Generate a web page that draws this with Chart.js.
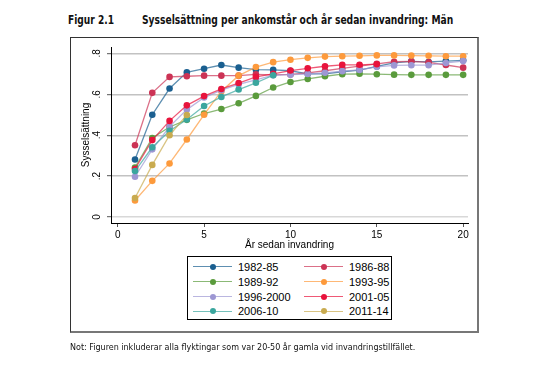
<!DOCTYPE html>
<html>
<head>
<meta charset="utf-8">
<script src="https://cdn.jsdelivr.net/npm/chart.js@4.4.1/dist/chart.umd.min.js"></script>
<style>
  body { margin: 0; background: #fff; width: 545px; height: 366px; position: relative; overflow: hidden; }
  #chart { position: absolute; left: 0; top: 0; }
  .narrow { position: absolute; white-space: nowrap; color: #111; line-height: 14px;
            font-family: "Liberation Sans Narrow", "DejaVu Sans Condensed", sans-serif;
            transform-origin: 0 50%; }
  #fig { left: 68px; top: 13px; font-size: 12.5px; font-weight: bold; }
  #title { left: 142px; top: 13px; font-size: 12.5px; font-weight: bold; }
  #note { left: 70px; top: 340px; font-size: 9.5px; }
  #frame { position: absolute; left: 70px; top: 37px; width: 406px; height: 293px;
           border: 1px solid #333; border-right: 2px solid #777; border-bottom: 2px solid #777; }
  #legend { position: absolute; left: 187px; top: 256px; width: 203px; height: 62px;
            border: 1px solid #000; background: #fff;
            font-family: "Liberation Sans", Arial, sans-serif; font-size: 11px; color: #000; }
  #legend .ln { position: absolute; height: 1.5px; width: 39px; }
  #legend .dot { position: absolute; width: 6px; height: 6px; border-radius: 50%; }
  #legend .lbl { position: absolute; line-height: 12px; }
</style>
</head>
<body>
<div class="narrow" id="fig">Figur 2.1</div>
<div class="narrow" id="title">Sysselsättning per ankomstår och år sedan invandring: Män</div>
<div id="frame"></div>
<canvas id="chart" width="545" height="366"></canvas>
<div id="legend"></div>
<div class="narrow" id="note">Not: Figuren inkluderar alla flyktingar som var 20-50 år gamla vid invandringstillfället.</div>

<script>
// === Data ===
const years = [1, 2, 3, 4, 5, 6, 7, 8, 9, 10, 11, 12, 13, 14, 15, 16, 17, 18, 19, 20];
const xTicks = [0, 5, 10, 15, 20];
const yTicks = [0, 0.2, 0.4, 0.6, 0.8];

const seriesNames = ['1982-85', '1986-88', '1989-92', '1993-95', '1996-2000', '2001-05', '2006-10', '2011-14'];

const s1982 = [0.281, 0.500, 0.628, 0.707, 0.725, 0.743, 0.730, 0.720, 0.719, 0.715, 0.700, 0.700, 0.710, 0.718, 0.736, 0.753, 0.761, 0.758, 0.762, 0.766];
const s1986 = [0.351, 0.607, 0.685, 0.688, 0.691, 0.691, 0.691, 0.697, 0.695, 0.697, 0.705, 0.715, 0.727, 0.738, 0.749, 0.759, 0.761, 0.756, 0.743, 0.730];
const s1989 = [0.242, 0.386, 0.440, 0.475, 0.506, 0.528, 0.556, 0.592, 0.633, 0.660, 0.675, 0.688, 0.698, 0.700, 0.698, 0.696, 0.695, 0.695, 0.695, 0.695];
const s1993 = [0.081, 0.177, 0.262, 0.379, 0.500, 0.615, 0.691, 0.733, 0.757, 0.769, 0.778, 0.784, 0.786, 0.788, 0.790, 0.790, 0.789, 0.788, 0.786, 0.786];
const s1996 = [0.197, 0.331, 0.442, 0.525, 0.584, 0.620, 0.648, 0.670, 0.693, 0.696, 0.699, 0.705, 0.713, 0.719, 0.734, 0.741, 0.742, 0.742, 0.753, 0.762];
const s2001 = [0.235, 0.376, 0.470, 0.546, 0.591, 0.626, 0.655, 0.685, 0.700, 0.716, 0.727, 0.737, 0.744, 0.744, 0.747];
const s2006 = [0.225, 0.341, 0.421, 0.477, 0.543, 0.587, 0.623, 0.656, 0.693];
const s2011 = [0.093, 0.255, 0.400, 0.499];

const seriesValues = [s1982, s1986, s1989, s1993, s1996, s2001, s2006, s2011];
const markerColors = ['#1a5f90', '#cc3355', '#5a9b3c', '#fd9a3c', '#9d97d3', '#e8133c', '#3aa69e', '#c9ab4f'];

// line is a lighter tint of the marker colour
function tint(hex, a) {
    const n = parseInt(hex.slice(1), 16);
    return `rgba(${n >> 16}, ${(n >> 8) & 255}, ${n & 255}, ${a})`;
}

const datasets = seriesNames.map((name, i) => ({
    label: name,
    data: seriesValues[i].map((v, k) => ({ x: years[k], y: v })),
    borderColor: tint(markerColors[i], 0.7),
    backgroundColor: markerColors[i],
    pointBackgroundColor: markerColors[i],
    pointBorderWidth: 0,
    pointRadius: 3.3,
    borderWidth: 1.3,
    tension: 0,
    order: seriesNames.length - i
}));

const tickFont = { family: '"Liberation Sans", Arial, sans-serif', size: 10 };

const chart = new Chart(document.getElementById('chart').getContext('2d'), {
    type: 'line',
    data: { datasets },
    options: {
        responsive: false,
        animation: false,
        devicePixelRatio: 1,
        layout: { padding: { left: 70, top: 47, right: 77, bottom: 113 } },
        plugins: { legend: { display: false }, tooltip: { enabled: false } },
        scales: {
            x: {
                type: 'linear',
                min: -0.39,
                max: 20.28,
                afterBuildTicks: s => { s.ticks = xTicks.map(v => ({ value: v })); },
                afterFit: s => { s.height = 30; },
                ticks: { font: tickFont, color: '#000', padding: 2, maxRotation: 0 },
                grid: { drawOnChartArea: false, drawTicks: true, tickLength: 4, tickColor: '#555', tickWidth: 1 },
                border: { display: true, color: '#000', width: 1 },
                title: { display: true, text: 'År sedan invandring', font: tickFont, color: '#000', padding: { top: 0, bottom: 2 } }
            },
            y: {
                min: -0.029,
                max: 0.831,
                afterBuildTicks: s => { s.ticks = yTicks.map(v => ({ value: v })); },
                afterFit: s => { s.width = 41; },
                ticks: {
                    font: tickFont, color: '#000', padding: 6,
                    minRotation: 90, maxRotation: 90, crossAlign: 'center',
                    callback: v => v === 0 ? '0' : v.toFixed(1).replace(/^0/, '')
                },
                grid: {
                    color: ctx => ctx.tick && ctx.tick.value === 0 ? '#d8d8d8' : '#c2c2c2',
                    lineWidth: 1.4,
                    tickLength: 4, tickColor: '#555', tickWidth: 1
                },
                border: { display: true, color: '#000', width: 1 },
                title: { display: true, text: 'Sysselsättning', font: tickFont, color: '#000', padding: { top: 10, bottom: 0 } }
            }
        }
    }
});

// === Legend (two columns, boxed) built from the chart's datasets ===
const legendEl = document.getElementById('legend');
chart.data.datasets.forEach((ds, i) => {
    const col = i % 2, row = Math.floor(i / 2);
    const cy = 9.7 + row * 14.9;
    const x0 = col === 0 ? 5 : 116;
    const ln = document.createElement('div');
    ln.className = 'ln';
    ln.style.left = x0 + 'px';
    ln.style.top = (cy - 0.75) + 'px';
    ln.style.background = ds.borderColor;
    const dot = document.createElement('div');
    dot.className = 'dot';
    dot.style.left = (x0 + 19.5 - 3) + 'px';
    dot.style.top = (cy - 3) + 'px';
    dot.style.background = ds.pointBackgroundColor;
    const lbl = document.createElement('div');
    lbl.className = 'lbl';
    lbl.style.left = (x0 + 45) + 'px';
    lbl.style.top = (cy - 6) + 'px';
    lbl.textContent = ds.label;
    legendEl.append(ln, dot, lbl);
});

// squeeze the condensed texts to the widths they have in the figure
function fitWidth(id, w) {
    const el = document.getElementById(id);
    el.style.transform = `scaleX(${w / el.offsetWidth})`;
}
fitWidth('fig', 46);
fitWidth('title', 311);
fitWidth('note', 345);
</script>
</body>
</html>
